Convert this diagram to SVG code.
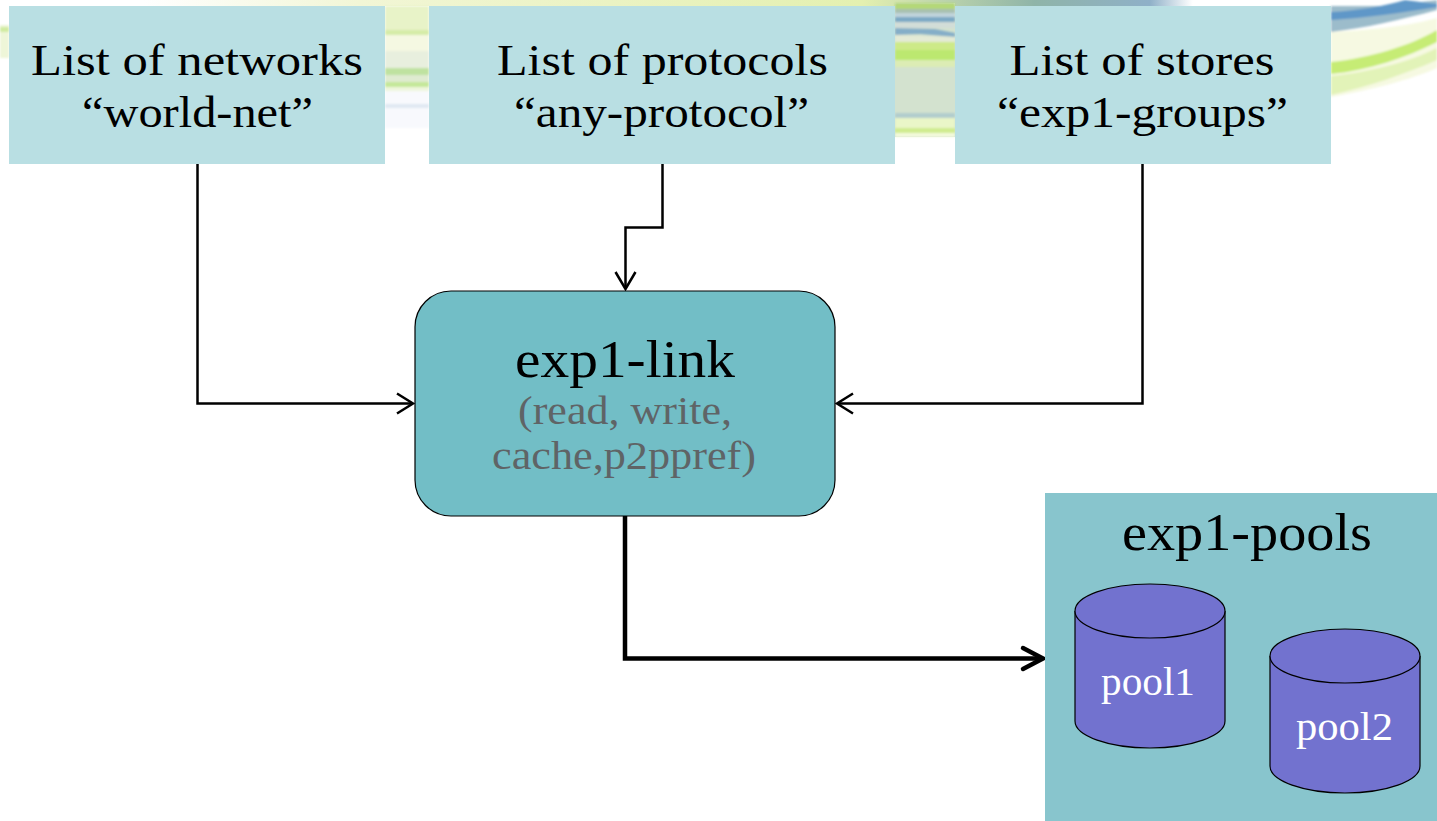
<svg xmlns="http://www.w3.org/2000/svg" width="1437" height="821" viewBox="0 0 1437 821">
<style>
text{font-family:"Liberation Serif","DejaVu Serif",serif;text-anchor:middle;fill:#000}
.t{font-size:45px}
.h{font-size:52px}
.s{font-size:41px;fill:#5f6466}
.w{font-size:40px;fill:#fff}
.list{fill:#b9dfe3}
.c{fill:#7272cf;stroke:#000;stroke-width:1.2}
.e{fill:none;stroke:#000;stroke-width:2.5;stroke-linejoin:miter}
.a{fill:none;stroke:#000;stroke-width:2.5}
</style>
<defs>
<linearGradient id="top" x1="0" y1="0" x2="1" y2="0">
<stop offset="0" stop-color="#ffffff"/><stop offset=".1" stop-color="#ffffff"/><stop offset=".25" stop-color="#f2f6d6"/><stop offset=".6" stop-color="#e4f0b0"/><stop offset=".72" stop-color="#8fb4a8"/><stop offset=".8" stop-color="#8fb0c8"/><stop offset=".83" stop-color="#ffffff"/><stop offset="1" stop-color="#ffffff"/>
</linearGradient>
<filter id="b" x="-5%" y="-20%" width="110%" height="140%"><feGaussianBlur stdDeviation="1.2"/></filter>
</defs>
<rect width="1437" height="821" fill="#fff"/>
<g id="background">
<rect x="0" y="0" width="1437" height="6" fill="url(#top)"/>
<g filter="url(#b)">
<rect x="0" y="25" width="9" height="33" fill="#eef6d8"/>
<rect x="0" y="27" width="9" height="5" fill="#d0eba0"/>
<rect x="385" y="6" width="44" height="26" fill="#e8f3c8"/>
<rect x="385" y="30" width="44" height="5" fill="#d6eca8"/>
<rect x="385" y="35" width="44" height="16" fill="#f5f8e2"/>
<rect x="385" y="51" width="44" height="17" fill="#e8efde"/>
<rect x="385" y="68" width="44" height="7" fill="#bfe2a0"/>
<rect x="385" y="75" width="44" height="7" fill="#dfebd0"/>
<rect x="385" y="82" width="44" height="5" fill="#c5e89a"/>
<rect x="385" y="87" width="44" height="4" fill="#eef6dc"/>
<rect x="385" y="91" width="44" height="37" fill="#f8f9fd"/>
<rect x="385" y="104" width="44" height="4" fill="#e0e8f2"/>
</g>
<rect x="895" y="3" width="60" height="134" fill="#d3e2cf"/>
<g filter="url(#b)">
<rect x="895" y="3" width="60" height="6" fill="#b4d878"/>
<rect x="895" y="9" width="60" height="4" fill="#a8c0b0"/>
<rect x="895" y="13" width="60" height="4" fill="#c0d4dc"/>
<rect x="895" y="17" width="60" height="5" fill="#7ba9c5"/>
<rect x="895" y="22" width="60" height="6" fill="#d2ddd8"/>
<path d="M895 28L935 29L955 33V37L920 34L895 35Z" fill="#85aec8"/>
<path d="M895 35L955 37V42L895 42Z" fill="#e4ead6"/>
<rect x="895" y="42" width="60" height="8" fill="#cdea88"/>
<rect x="895" y="50" width="60" height="10" fill="#bce870"/>
<rect x="895" y="60" width="60" height="7" fill="#dcecb4"/>
<rect x="895" y="113" width="60" height="5" fill="#b2cdcd"/>
<rect x="895" y="118" width="60" height="10" fill="#eaf6c8"/>
<rect x="895" y="128" width="60" height="5" fill="#d0ec90"/>
<rect x="895" y="133" width="60" height="4" fill="#f4fadc"/>
</g>
<g filter="url(#b)">
<path d="M1331 97C1370 90 1410 80 1437 68V18C1400 28 1365 30 1331 32Z" fill="#f6f9e2"/>
<path d="M1331 76C1370 72 1410 62 1437 48V60C1405 74 1370 86 1331 95Z" fill="#e2f3b8"/>
<path d="M1331 62C1370 58 1410 46 1437 30V42C1405 58 1370 70 1331 74Z" fill="#c6ec74"/>
<path d="M1331 6H1390L1437 0V10C1400 20 1365 28 1331 32Z" fill="#9cbccb"/>
<path d="M1331 12C1355 11 1385 6 1405 0L1437 4V7C1400 13 1365 18 1331 20Z" fill="#5f97c8"/>
</g>
</g>
<g id="connectors">
<path class="e" d="M197.500 164V403.500H413"/>
<path class="e" d="M662.500 164V227.500H625.500V289"/>
<path class="e" d="M1142.500 164V403.500H837"/>
<path class="a" d="M397 393.500L413 403.500L397 413.500"/>
<path class="a" d="M853 393.500L837 403.500L853 413.500"/>
<path class="a" d="M615.500 272L625.500 289L635.500 272"/>
<path fill="none" stroke="#000" stroke-width="4.500" d="M625 516V658.500H1043"/>
<path fill="none" stroke="#000" stroke-width="4.500" stroke-linecap="round" d="M1023 648L1043 658.500L1023 669"/>
</g>
<g id="networks"><rect class="list" x="9" y="6" width="376" height="158"/><text class="t" x="197" y="75" textLength="332" lengthAdjust="spacingAndGlyphs">List of networks</text><text class="t" x="197.500" y="127" textLength="231" lengthAdjust="spacingAndGlyphs">“world-net”</text></g>
<g id="protocols"><rect class="list" x="429" y="6" width="466" height="158"/><text class="t" x="662.500" y="75" textLength="331" lengthAdjust="spacingAndGlyphs">List of protocols</text><text class="t" x="661.500" y="127" textLength="295" lengthAdjust="spacingAndGlyphs">“any-protocol”</text></g>
<g id="stores"><rect class="list" x="955" y="6" width="376" height="158"/><text class="t" x="1142" y="75" textLength="265" lengthAdjust="spacingAndGlyphs">List of stores</text><text class="t" x="1142.500" y="127" textLength="291" lengthAdjust="spacingAndGlyphs">“exp1-groups”</text></g>
<g id="link"><rect x="415" y="291" width="420" height="225" rx="36" fill="#72bec6" stroke="#000" stroke-width="1.200"/><text class="h" x="625" y="377" textLength="220" lengthAdjust="spacingAndGlyphs">exp1-link</text><text class="s" x="625" y="424" textLength="214" lengthAdjust="spacingAndGlyphs">(read, write,</text><text class="s" x="624" y="469" textLength="264" lengthAdjust="spacingAndGlyphs">cache,p2ppref)</text></g>
<g id="pools"><rect x="1045" y="493" width="392" height="328" fill="#88c5cd"/><text class="h" x="1247" y="550" textLength="250" lengthAdjust="spacingAndGlyphs">exp1-pools</text>
<g id="pool1"><path class="c" d="M1075 611V721C1075 736 1109 748 1150 748S1225 736 1225 721V611"/><ellipse class="c" cx="1150" cy="611" rx="75" ry="27"/><text class="w" x="1148" y="695" textLength="94" lengthAdjust="spacingAndGlyphs">pool1</text></g>
<g id="pool2"><path class="c" d="M1270 656V766C1270 781 1304 793 1345 793S1420 781 1420 766V656"/><ellipse class="c" cx="1345" cy="656" rx="75" ry="27"/><text class="w" x="1344.500" y="740" textLength="97" lengthAdjust="spacingAndGlyphs">pool2</text></g>
</g>
</svg>
